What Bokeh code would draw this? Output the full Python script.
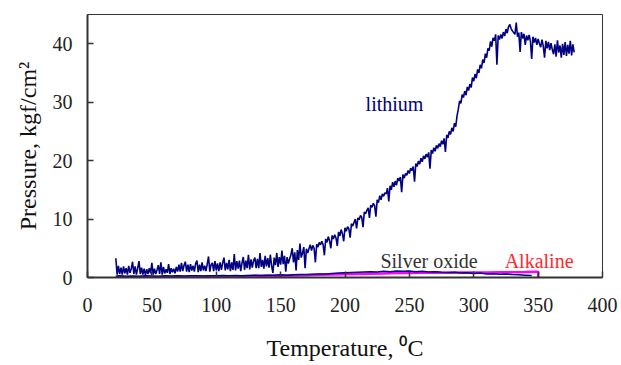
import numpy as np
from bokeh.plotting import figure
from bokeh.models import Range1d, FixedTicker
from bokeh.core.properties import value
from bokeh.embed import file_html
from bokeh.resources import INLINE

# Lithium: pressure (kgf/cm2) read every 1 degC starting at 22 degC
lithium_start = 22
lithium = [
    3.3, 0.5, 2.0, 0.6, 1.7, 0.5, 1.9, 0.7, 1.6, 0.5,
    2.0, 0.8, 1.5, 2.7, 0.6, 1.9, 0.5, 1.6, 2.8, 0.6,
    1.7, 0.5, 1.5, 0.4, 1.4, 0.6, 1.6, 0.7, 2.5, 0.5,
    1.5, 0.6, 1.3, 2.1, 0.6, 2.6, 0.5, 1.8, 0.7, 1.4,
    0.8, 2.3, 0.6, 1.6, 0.9, 1.5, 0.7, 1.8, 1.0, 2.2,
    1.0, 2.5, 1.1, 2.1, 2.7, 1.0, 2.2, 0.9, 2.3, 1.2,
    2.0, 1.0, 2.4, 2.9, 0.9, 2.2, 1.1, 2.6, 1.2, 2.0,
    1.1, 2.3, 3.6, 1.0, 2.2, 2.5, 1.1, 2.8, 1.2, 2.4,
    1.1, 2.6, 1.3, 2.5, 3.4, 1.2, 2.5, 1.4, 3.0, 1.1,
    2.6, 1.3, 4.0, 1.2, 2.8, 1.5, 2.9, 1.1, 2.5, 3.5,
    1.3, 2.9, 1.6, 3.9, 1.4, 3.1, 1.7, 2.9, 3.4, 1.6,
    3.2, 1.6, 4.2, 1.8, 3.0, 1.5, 3.7, 1.9, 3.3, 1.7,
    3.9, 2.0, 0.8, 3.4, 2.1, 4.2, 1.8, 3.5, 2.2, 4.6,
    2.3, 3.7, 1.0, 3.5, 2.4, 3.2, 3.9, 5.0, 2.6, 4.3,
    1.2, 4.7, 3.0, 5.8, 3.4, 4.2, 5.2, 1.6, 4.9, 4.2,
    4.9, 5.6, 4.6, 5.5, 5.0, 2.6, 5.7, 5.2, 6.0, 5.6,
    6.2, 5.6, 3.8, 6.6, 6.0, 7.0, 6.3, 5.0, 7.2, 6.6,
    7.3, 6.8, 5.4, 7.8, 7.1, 8.2, 7.5, 6.2, 8.5, 7.9,
    8.7, 8.3, 6.8, 9.2, 8.8, 9.4, 10.0, 8.4, 10.2, 9.9,
    10.6, 10.3, 8.6, 11.2, 10.9, 11.5, 11.9, 10.2, 12.4, 12.0,
    12.7, 12.3, 10.4, 13.3, 12.8, 14.0, 13.3, 14.3, 13.9, 14.5,
    14.3, 15.3, 13.0, 15.7, 15.0, 16.3, 15.5, 16.5, 15.8, 17.0,
    16.5, 17.2, 14.6, 17.6, 17.0, 17.8, 17.5, 18.3, 17.8, 18.7,
    18.3, 19.0, 16.4, 19.5, 19.0, 19.9, 19.4, 20.4, 19.8, 20.8,
    20.3, 21.1, 20.6, 21.4, 18.6, 21.8, 21.2, 22.2, 21.6, 22.6,
    22.1, 22.9, 22.4, 23.4, 22.8, 23.8, 21.5, 24.4, 23.9, 25.0,
    24.5, 25.6, 25.0, 26.4, 25.8, 27.6, 28.8, 30.2, 29.8, 31.3,
    30.8, 31.9, 31.2, 32.6, 32.0, 33.1, 32.5, 34.2, 33.6, 34.8,
    34.1, 35.6, 35.0, 36.4, 35.8, 37.3, 36.7, 38.3, 37.6, 39.2,
    38.8, 40.4, 39.5, 41.0, 40.5, 41.6, 36.4, 41.4, 40.7, 41.6,
    40.9, 42.0, 41.3, 42.5, 41.8, 42.9, 43.3, 42.6, 42.2, 41.9,
    41.6, 43.6, 41.2, 41.9, 38.6, 42.0, 40.9, 41.7, 39.8, 41.4,
    40.6, 41.5, 40.5, 37.4, 41.2, 40.2, 41.0, 39.8, 40.8, 40.0,
    39.4, 40.7, 39.6, 37.6, 40.5, 39.2, 40.3, 38.9, 40.1, 39.0,
    38.2, 39.9, 37.8, 40.6, 38.5, 39.7, 37.6, 40.0, 38.1, 40.3,
    37.9, 39.8, 38.3, 40.5, 38.0, 39.9, 38.5,
]
lithium_t = list(range(lithium_start, lithium_start + len(lithium)))

silver_t = [22, 25, 30, 35, 40, 45, 50, 55, 60, 65, 70, 75, 80, 85, 90, 95,
            100, 105, 110, 115, 120, 125, 130, 135, 140, 145, 150, 155, 160,
            165, 170, 175, 180, 185, 190, 195, 200, 205, 210, 215, 220, 225,
            230, 235, 240, 245, 250, 255, 260, 265, 270, 275, 280, 285, 290,
            295, 300, 305, 310, 315, 320, 325, 330, 335, 340, 345]
silver = [0.2, 0.3, 0.2, 0.25, 0.2, 0.3, 0.25, 0.2, 0.3, 0.25, 0.3, 0.25, 0.3,
          0.3, 0.25, 0.3, 0.3, 0.35, 0.3, 0.35, 0.3, 0.35, 0.4, 0.35, 0.4, 0.4,
          0.45, 0.4, 0.45, 0.5, 0.5, 0.55, 0.6, 0.6, 0.7, 0.75, 0.8, 0.85, 0.9,
          0.95, 1.0, 0.95, 1.05, 1.0, 1.1, 1.05, 1.1, 1.0, 1.05, 0.95, 1.0, 0.9,
          0.85, 0.9, 0.75, 0.8, 0.7, 0.75, 0.6, 0.65, 0.55, 0.6, 0.5, 0.45, 0.4,
          0.35]

alkaline_t = [22, 30, 40, 50, 60, 70, 80, 90, 100, 110, 120, 130, 140, 150,
              160, 170, 180, 190, 200, 210, 220, 230, 240, 250, 260, 270, 280,
              290, 300, 310, 320, 330, 340, 348, 350, 350]
alkaline = [0.1, 0.1, 0.1, 0.1, 0.1, 0.12, 0.12, 0.15, 0.15, 0.2, 0.2, 0.25,
            0.3, 0.3, 0.35, 0.4, 0.45, 0.5, 0.55, 0.6, 0.65, 0.7, 0.75, 0.75,
            0.8, 0.8, 0.8, 0.85, 0.85, 0.85, 0.9, 0.9, 0.95, 1.0, 1.0, 0.0]

x_ticks = [0, 50, 100, 150, 200, 250, 300, 350, 400]
y_ticks = [0, 10, 20, 30, 40]

FONT = "'Liberation Serif', 'Times New Roman', serif"

p = figure(width=621, height=365, output_backend="svg", toolbar_location=None,
           x_range=Range1d(0, 400), y_range=Range1d(0, 45),
           min_border_left=87, min_border_right=19, min_border_top=14,
           min_border_bottom=88)
p.grid.visible = False
p.background_fill_color = "white"
p.border_fill_color = "white"
p.outline_line_color = "#333333"
p.outline_line_width = 1

p.line(alkaline_t, alkaline, line_color="#FF00FF", line_width=2.5)
p.line(silver_t, silver, line_color="#000080", line_width=1.5)
p.line(lithium_t, lithium, line_color="#000080", line_width=1.6)

p.text(x=[216], y=[29.7], text=["lithium"], text_font=value(FONT),
       text_font_size="20px", text_color="#000080", text_baseline="alphabetic")
p.text(x=[227.5], y=[2.9], text=["Silver oxide"], text_font=value(FONT),
       text_font_size="20px", text_color="#333333", text_baseline="alphabetic")
p.text(x=[324], y=[2.8], text=["Alkaline"], text_font=value(FONT),
       text_font_size="20px", text_color="#FF2A2A", text_baseline="alphabetic")

for ax in (p.xaxis[0], p.yaxis[0]):
    ax.major_tick_in = 6
    ax.major_tick_out = 0
    ax.minor_tick_line_color = None
    ax.axis_line_width = 2
    ax.axis_line_color = "#333333"
    ax.major_tick_line_color = "#333333"
    ax.major_tick_line_width = 1.5
    ax.major_label_text_font = FONT
    ax.major_label_text_font_size = "20px"
    ax.major_label_text_color = "#222222"
    ax.axis_label_text_font = FONT
    ax.axis_label_text_font_size = "24px"
    ax.axis_label_text_font_style = "normal"
    ax.axis_label_text_color = "#111111"

p.xaxis.ticker = FixedTicker(ticks=x_ticks)
p.yaxis.ticker = FixedTicker(ticks=y_ticks)
p.xaxis.axis_label = "Temperature, \u2070C"
p.yaxis.axis_label = "Pressure, kgf/cm\u00b2"
p.xaxis.major_label_standoff = 20
p.xaxis.axis_label_standoff = 20
p.yaxis.major_label_standoff = 15
p.yaxis.axis_label_standoff = 9

open("out.html", "w").write(file_html(p, INLINE))
